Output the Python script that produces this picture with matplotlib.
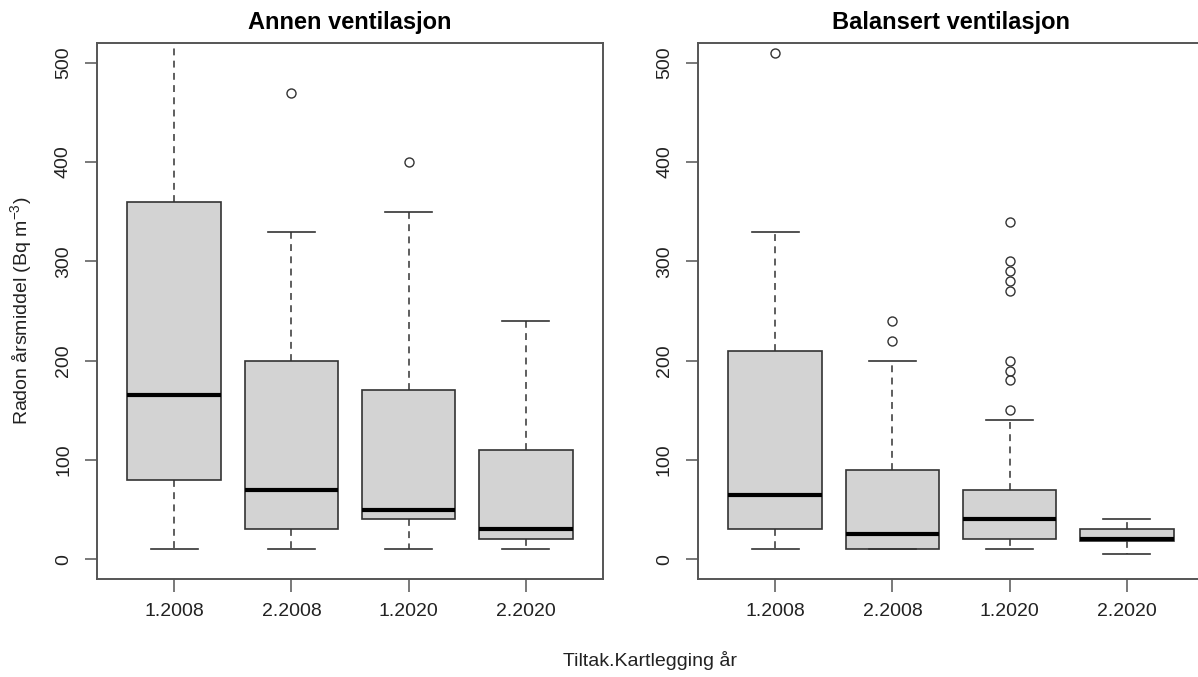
import matplotlib
matplotlib.use('Agg')
import matplotlib.pyplot as plt

categories = ['1.2008', '2.2008', '1.2020', '2.2020']
panel_titles = ['Annen ventilasjon', 'Balansert ventilasjon']

# Annen ventilasjon
annen_whislo = [10, 10, 10, 10]
annen_q1 = [80, 30, 40, 20]
annen_med = [165, 70, 50, 30]
annen_q3 = [360, 200, 170, 110]
annen_whishi = [560, 330, 350, 240]
annen_fliers = [[], [470], [400], []]

# Balansert ventilasjon
bal_whislo = [10, 10, 10, 5]
bal_q1 = [30, 10, 20, 18]
bal_med = [65, 25, 40, 20]
bal_q3 = [210, 90, 70, 30]
bal_whishi = [330, 200, 140, 40]
bal_fliers = [[510], [220, 240], [150, 180, 190, 200, 270, 280, 290, 300, 340], []]

y_ticks = [0, 100, 200, 300, 400, 500]

plt.rcParams['font.family'] = ['Liberation Sans', 'DejaVu Sans']
plt.rcParams['mathtext.fontset'] = 'custom'
plt.rcParams['mathtext.rm'] = 'Liberation Sans'
plt.rcParams['mathtext.it'] = 'Liberation Sans'
plt.rcParams['mathtext.default'] = 'regular'

W, H = 1198, 677
fig = plt.figure(figsize=(W / 100, H / 100), dpi=100)

ax_w = 506 / W
ax_b = 1 - 579 / H
ax_h = (579 - 43) / H
axes = [fig.add_axes([97 / W, ax_b, ax_w, ax_h]),
        fig.add_axes([698 / W, ax_b, ax_w, ax_h])]

panels = [
    (annen_whislo, annen_q1, annen_med, annen_q3, annen_whishi, annen_fliers),
    (bal_whislo, bal_q1, bal_med, bal_q3, bal_whishi, bal_fliers),
]

edge = '#333333'
spine_col = '#555555'
text_col = '#222222'

for ax, title, (wl, q1, md, q3, wh, fl) in zip(axes, panel_titles, panels):
    stats = []
    for i, lab in enumerate(categories):
        stats.append(dict(label=lab, whislo=wl[i], q1=q1[i], med=md[i],
                          q3=q3[i], whishi=wh[i], fliers=fl[i]))
    ax.bxp(stats, positions=[1, 2, 3, 4], widths=0.8, capwidths=0.4,
           patch_artist=True, showfliers=True,
           boxprops=dict(facecolor='#d3d3d3', edgecolor=edge, linewidth=1.2),
           medianprops=dict(color='black', linewidth=3.0, solid_capstyle='butt'),
           whiskerprops=dict(color=edge, linewidth=1.1, linestyle=(0, (4.5, 3.5))),
           capprops=dict(color=edge, linewidth=1.2),
           flierprops=dict(marker='o', markerfacecolor='none',
                           markeredgecolor=edge, markersize=6.5,
                           markeredgewidth=1.0, linestyle='none'))
    ax.set_xlim(0.34, 4.66)
    ax.set_ylim(-20, 520)
    ax.set_xticks([1, 2, 3, 4])
    ax.set_xticklabels(categories)
    ax.set_yticks(y_ticks)
    ax.set_yticklabels([str(t) for t in y_ticks], rotation=90, va='center')
    ax.tick_params(axis='both', direction='out', length=9, width=1.1,
                   color=spine_col, labelcolor=text_col, labelsize=14)
    ax.tick_params(axis='x', pad=8)
    ax.tick_params(axis='y', pad=9)
    for sp in ax.spines.values():
        sp.set_color(spine_col)
        sp.set_linewidth(1.4)
    ax.set_title(title, fontsize=17, fontweight='bold', color='black', pad=10)

axes[0].set_ylabel('Radon årsmiddel (Bq m$^{-3}$)', fontsize=14, color=text_col)
axes[0].yaxis.set_label_coords(-0.124, 0.5)

fig.text(650 / W, 1 - 661 / H, 'Tiltak.Kartlegging år', ha='center', va='center',
         fontsize=14, color=text_col)

fig.savefig('out.png', dpi=100, facecolor='white')
